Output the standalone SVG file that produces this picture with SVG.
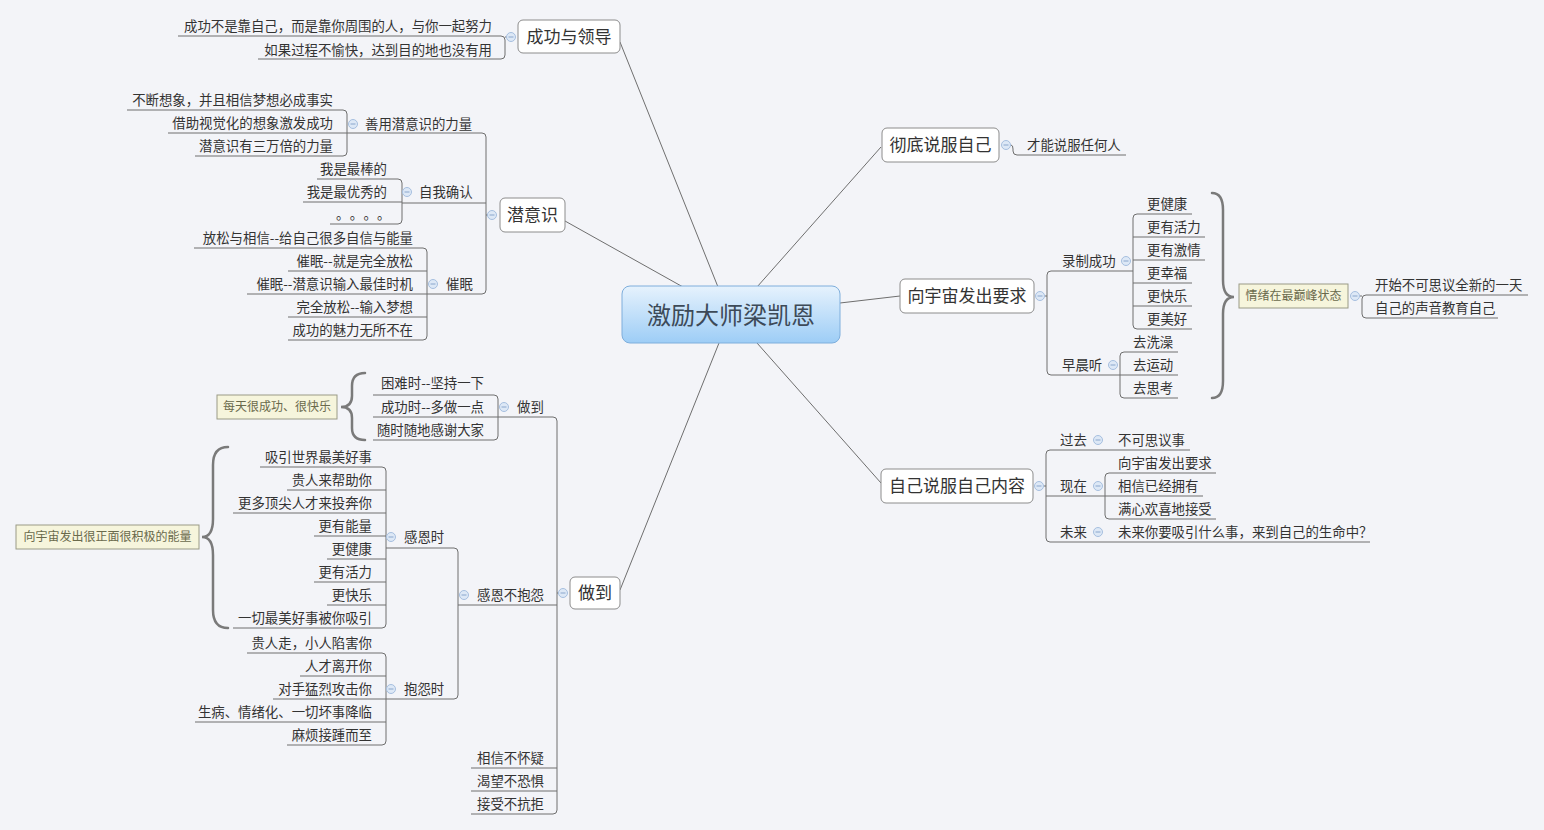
<svg xmlns="http://www.w3.org/2000/svg" width="1544" height="830" viewBox="0 0 1544 830">
<defs>
<linearGradient id="cg" x1="0" y1="0" x2="0" y2="1">
<stop offset="0" stop-color="#e6f2fd"/>
<stop offset="1" stop-color="#9dcdf6"/>
</linearGradient>
<style>
text{font-family:"Noto Sans CJK SC","Noto Sans",sans-serif;fill:#333}
.t{font-size:13.4px}
.e{text-anchor:end}
.m{font-size:17px;text-anchor:middle}
.c{font-size:12px;fill:#6a6a4c;text-anchor:middle}
.box{fill:#fff;stroke:#8c8c8c;stroke-width:1}
.cb{fill:#f6f5dc;stroke:#9a9a86;stroke-width:1}
.ln{fill:none;stroke:#6e6e6e;stroke-width:1}
.br{fill:none;stroke:#7a7a7a;stroke-width:2.5;stroke-linecap:round}
.mk circle{fill:#dde8f6;stroke:#a6bfdf;stroke-width:1}
.mk path{stroke:#8aa6cc;stroke-width:1}
</style>
</defs>
<rect width="1544" height="830" fill="#f3f4f8"/>

<g id="connectors">
<!-- central to main topics -->
<path class="ln" d="M718 287 L620 42"/>
<path class="ln" d="M683 287 L565 221"/>
<path class="ln" d="M757 287 L881 147"/>
<path class="ln" d="M840 303 L900 296"/>
<path class="ln" d="M757 343 L881 483"/>
<path class="ln" d="M719 343 L620 590"/>
<!-- 成功与领导 -->
<path class="ln" d="M178 36 H501 Q505 36 505 40 V55 Q505 59 501 59 H258 M505 37 H507"/>
<!-- 潜意识 -->
<path class="ln" d="M347 133 H482 Q486 133 486 137 V290 Q486 294 482 294 H247 M486 215 H488 M402 203 H486"/>
<path class="ln" d="M127 110 H343 Q347 110 347 114 V152 Q347 156 343 156 H195 M168 133 H347"/>
<path class="ln" d="M317 179 H398 Q402 179 402 183 V220 Q402 224 398 224 H330 M303 202 H402"/>
<path class="ln" d="M194 248 H423 Q427 248 427 252 V336 Q427 340 423 340 H288 M288 271 H427 M288 317 H427"/>
<!-- 做到 -->
<path class="ln" d="M373 417 H553 Q557 417 557 421 V810 Q557 814 553 814 H471 M557 593 H558 M458 605 H557 M471 768 H557 M471 791 H557"/>
<path class="ln" d="M373 395 H494 Q498 395 498 399 V436 Q498 440 494 440 H373"/>
<path class="ln" d="M386 548 H454 Q458 548 458 552 V695 Q458 699 454 699 H386"/>
<path class="ln" d="M260 467 H382 Q386 467 386 471 V624 Q386 628 382 628 H233 M287 490 H386 M233 513 H386 M314 536 H386 M327 559 H386 M314 582 H386 M327 605 H386"/>
<path class="ln" d="M247 653 H382 Q386 653 386 657 V741 Q386 745 382 745 H287 M300 676 H386 M273 699 H386 M195 722 H386"/>
<!-- 彻底说服自己 -->
<path class="ln" d="M1011 145 Q1013 145 1013 149 V151 Q1013 155 1017 155 H1126"/>
<!-- 向宇宙发出要求 -->
<path class="ln" d="M1133 271 H1051 Q1047 271 1047 275 V371 Q1047 375 1051 375 H1178 M1045 296 H1047"/>
<path class="ln" d="M1192 214 H1137 Q1133 214 1133 218 V325 Q1133 329 1137 329 H1192 M1133 237 H1205 M1133 260 H1205 M1133 283 H1192 M1133 306 H1192"/>
<path class="ln" d="M1178 352 H1124 Q1120 352 1120 356 V394 Q1120 398 1124 398 H1178"/>
<path class="ln" d="M1528 295 H1366 Q1362 295 1362 299 V314 Q1362 318 1366 318 H1498 M1360 296 H1362"/>
<!-- 自己说服自己内容 -->
<path class="ln" d="M1190 450 H1050 Q1046 450 1046 454 V538 Q1046 542 1050 542 H1370 M1044 486 H1046 M1046 496 H1203"/>
<path class="ln" d="M1216 473 H1109 Q1105 473 1105 477 V515 Q1105 519 1109 519 H1216"/>
<!-- braces -->
<path class="br" d="M365 373 Q352 373 352 386 L352 396 Q352 407 341 407 Q352 407 352 418 L352 428 Q352 440 365 440"/>
<path class="br" d="M228 447 Q213 447 213 465 L213 519 Q213 537 202 537 Q213 537 213 555 L213 610 Q213 628 228 628"/>
<path class="br" d="M1212 193 Q1223 193 1223 210 L1223 280 Q1223 297 1234 297 Q1223 297 1223 314 L1223 381 Q1223 398 1212 398"/>
</g>

<g id="central">
<rect x="622" y="286" width="218" height="57" rx="8" fill="url(#cg)" stroke="#7eaedc"/>
<text x="731" y="324" style="font-size:24px;text-anchor:middle;fill:#3d4a58">激励大师梁凯恩</text>
</g>

<g id="n-chenggong">
<rect class="box" x="518" y="20" width="102" height="33" rx="5"/>
<text class="m" x="569" y="43">成功与领导</text>
<g class="mk"><circle cx="511" cy="37" r="4.5"/><path d="M508.5 37 H513.5"/></g>
<text class="t e" x="492" y="31">成功不是靠自己，而是靠你周围的人，与你一起努力</text>
<text class="t e" x="492" y="55">如果过程不愉快，达到目的地也没有用</text>
</g>

<g id="n-qianyishi">
<rect class="box" x="500" y="198" width="65" height="34" rx="5"/>
<text class="m" x="532.5" y="221">潜意识</text>
<g class="mk"><circle cx="492" cy="215" r="4.5"/><path d="M489.5 215 H494.5"/></g>
<text class="t" x="365" y="129">善用潜意识的力量</text>
<g class="mk"><circle cx="353" cy="124" r="4.5"/><path d="M350.5 124 H355.5"/></g>
<text class="t e" x="333" y="105">不断想象，并且相信梦想必成事实</text>
<text class="t e" x="333" y="128">借助视觉化的想象激发成功</text>
<text class="t e" x="333" y="151">潜意识有三万倍的力量</text>
<text class="t" x="419" y="197">自我确认</text>
<g class="mk"><circle cx="407" cy="192" r="4.5"/><path d="M404.5 192 H409.5"/></g>
<text class="t e" x="387" y="174">我是最棒的</text>
<text class="t e" x="387" y="197">我是最优秀的</text>
<text class="t" x="336" y="219" letter-spacing="7">。。。。</text>
<text class="t" x="446" y="289">催眠</text>
<g class="mk"><circle cx="433" cy="284" r="4.5"/><path d="M430.5 284 H435.5"/></g>
<text class="t e" x="413" y="243">放松与相信--给自己很多自信与能量</text>
<text class="t e" x="413" y="266">催眠--就是完全放松</text>
<text class="t e" x="413" y="289">催眠--潜意识输入最佳时机</text>
<text class="t e" x="413" y="312">完全放松--输入梦想</text>
<text class="t e" x="413" y="335">成功的魅力无所不在</text>
</g>

<g id="n-zuodao">
<rect class="box" x="570" y="577" width="50" height="32" rx="5"/>
<text class="m" x="595" y="599">做到</text>
<g class="mk"><circle cx="563" cy="593" r="4.5"/><path d="M560.5 593 H565.5"/></g>
<text class="t" x="517" y="412">做到</text>
<g class="mk"><circle cx="504" cy="407" r="4.5"/><path d="M501.5 407 H506.5"/></g>
<text class="t e" x="484" y="388">困难时--坚持一下</text>
<text class="t e" x="484" y="412">成功时--多做一点</text>
<text class="t e" x="484" y="435">随时随地感谢大家</text>
<rect class="cb" x="217" y="395" width="120" height="24"/>
<text class="c" x="277" y="411">每天很成功、很快乐</text>
<text class="t" x="477" y="600">感恩不抱怨</text>
<g class="mk"><circle cx="464" cy="595" r="4.5"/><path d="M461.5 595 H466.5"/></g>
<text class="t" x="404" y="542">感恩时</text>
<g class="mk"><circle cx="391" cy="537" r="4.5"/><path d="M388.5 537 H393.5"/></g>
<text class="t e" x="372" y="462">吸引世界最美好事</text>
<text class="t e" x="372" y="485">贵人来帮助你</text>
<text class="t e" x="372" y="508">更多顶尖人才来投奔你</text>
<text class="t e" x="372" y="531">更有能量</text>
<text class="t e" x="372" y="554">更健康</text>
<text class="t e" x="372" y="577">更有活力</text>
<text class="t e" x="372" y="600">更快乐</text>
<text class="t e" x="372" y="623">一切最美好事被你吸引</text>
<rect class="cb" x="16" y="525" width="183" height="24"/>
<text class="c" x="107.5" y="541">向宇宙发出很正面很积极的能量</text>
<text class="t" x="404" y="694">抱怨时</text>
<g class="mk"><circle cx="391" cy="689" r="4.5"/><path d="M388.5 689 H393.5"/></g>
<text class="t e" x="372" y="648">贵人走，小人陷害你</text>
<text class="t e" x="372" y="671">人才离开你</text>
<text class="t e" x="372" y="694">对手猛烈攻击你</text>
<text class="t e" x="372" y="717">生病、情绪化、一切坏事降临</text>
<text class="t e" x="372" y="740">麻烦接踵而至</text>
<text class="t" x="477" y="763">相信不怀疑</text>
<text class="t" x="477" y="786">渴望不恐惧</text>
<text class="t" x="477" y="809">接受不抗拒</text>
</g>

<g id="n-chedi">
<rect class="box" x="882" y="128" width="117" height="34" rx="5"/>
<text class="m" x="940.5" y="151">彻底说服自己</text>
<g class="mk"><circle cx="1006" cy="145" r="4.5"/><path d="M1003.5 145 H1008.5"/></g>
<text class="t" x="1027" y="150">才能说服任何人</text>
</g>

<g id="n-xiangyuzhou">
<rect class="box" x="900" y="279" width="134" height="34" rx="5"/>
<text class="m" x="967" y="302">向宇宙发出要求</text>
<g class="mk"><circle cx="1040" cy="296" r="4.5"/><path d="M1037.5 296 H1042.5"/></g>
<text class="t" x="1062" y="266">录制成功</text>
<g class="mk"><circle cx="1126" cy="261" r="4.5"/><path d="M1123.5 261 H1128.5"/></g>
<text class="t" x="1147" y="209">更健康</text>
<text class="t" x="1147" y="232">更有活力</text>
<text class="t" x="1147" y="255">更有激情</text>
<text class="t" x="1147" y="278">更幸福</text>
<text class="t" x="1147" y="301">更快乐</text>
<text class="t" x="1147" y="324">更美好</text>
<text class="t" x="1062" y="370">早晨听</text>
<g class="mk"><circle cx="1113" cy="365" r="4.5"/><path d="M1110.5 365 H1115.5"/></g>
<text class="t" x="1133" y="347">去洗澡</text>
<text class="t" x="1133" y="370">去运动</text>
<text class="t" x="1133" y="393">去思考</text>
<rect class="cb" x="1239" y="284" width="109" height="24"/>
<text class="c" x="1293.5" y="300">情绪在最巅峰状态</text>
<g class="mk"><circle cx="1355" cy="296" r="4.5"/><path d="M1352.5 296 H1357.5"/></g>
<text class="t" x="1375" y="290">开始不可思议全新的一天</text>
<text class="t" x="1375" y="313">自己的声音教育自己</text>
</g>

<g id="n-neirong">
<rect class="box" x="881" y="469" width="152" height="34" rx="5"/>
<text class="m" x="957" y="492">自己说服自己内容</text>
<g class="mk"><circle cx="1039" cy="486" r="4.5"/><path d="M1036.5 486 H1041.5"/></g>
<text class="t" x="1060" y="445">过去</text>
<g class="mk"><circle cx="1098" cy="440" r="4.5"/><path d="M1095.5 440 H1100.5"/></g>
<text class="t" x="1118" y="445">不可思议事</text>
<text class="t" x="1060" y="491">现在</text>
<g class="mk"><circle cx="1098" cy="486" r="4.5"/><path d="M1095.5 486 H1100.5"/></g>
<text class="t" x="1118" y="468">向宇宙发出要求</text>
<text class="t" x="1118" y="491">相信已经拥有</text>
<text class="t" x="1118" y="514">满心欢喜地接受</text>
<text class="t" x="1060" y="537">未来</text>
<g class="mk"><circle cx="1098" cy="532" r="4.5"/><path d="M1095.5 532 H1100.5"/></g>
<text class="t" x="1118" y="537">未来你要吸引什么事，来到自己的生命中？</text>
</g>
</svg>
